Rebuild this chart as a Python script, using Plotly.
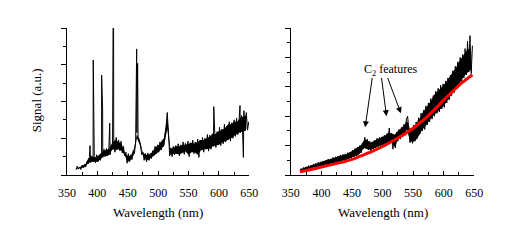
import numpy as np
import plotly.graph_objects as go

# ---------------- data ----------------
# Left panel: emission spectrum on a 2 nm grid (365..649 nm), arbitrary units (axis 0..4)
wl_left = np.arange(365, 650, 2)
sig_left = [
    0.14, 0.24, 0.16, 0.22, 0.15, 0.27, 0.19, 0.30, 0.22, 0.36,   # 365-383
    0.30, 0.50, 0.34, 0.52, 0.36, 0.50, 0.33, 0.55, 0.36, 0.52,   # 385-403
    0.40, 0.62, 0.48, 0.70, 0.50, 0.72, 0.52, 0.74, 0.55, 0.82,   # 405-423
    0.70, 0.98, 0.62, 1.02, 0.70, 0.95, 0.66, 0.92, 0.60, 0.78,   # 425-443
    0.52, 0.62, 0.32, 0.58, 0.36, 0.55, 0.42, 0.66, 0.58, 0.90,   # 445-463
    1.15, 1.05, 0.92, 0.80, 0.55, 0.62, 0.40, 0.58, 0.36, 0.60,   # 465-483
    0.40, 0.58, 0.45, 0.66, 0.52, 0.78, 0.58, 0.82, 0.62, 0.90,   # 485-503
    0.68, 0.95, 0.78, 1.08, 1.30, 1.70, 1.15, 0.52, 0.74, 0.50,   # 505-523
    0.78, 0.55, 0.80, 0.58, 0.85, 0.52, 0.82, 0.60, 0.90, 0.56,   # 525-543
    0.86, 0.62, 0.92, 0.50, 0.88, 0.64, 0.95, 0.58, 0.90, 0.66,   # 545-563
    0.98, 0.48, 0.95, 0.68, 1.02, 0.62, 1.00, 0.72, 1.10, 0.65,   # 565-583
    1.08, 0.70, 1.12, 0.78, 1.20, 0.75, 1.18, 0.82, 1.30, 0.80,   # 585-603
    1.25, 0.85, 1.38, 0.90, 1.32, 0.95, 1.45, 0.92, 1.42, 1.00,   # 605-623
    1.50, 1.05, 1.55, 1.10, 1.48, 1.15, 1.62, 1.12, 1.75, 1.20,   # 625-643
    1.70, 1.22, 1.45,                                             # 645-649
]
# Sharp atomic / molecular lines in the left spectrum
line_wl_left = [388.0, 393.3, 407.1, 408.7, 420.4, 426.0, 426.7, 464.7, 466.3, 591.5, 634.7, 640.2]
line_pk_left = [0.80, 3.13, 2.72, 1.80, 1.41, 4.30, 4.30, 3.43, 3.04, 1.86, 1.89, 0.48]

# Dense noise band of the left spectrum (inner envelope), 5 nm grid 365..645
band_wl = np.arange(365, 650, 5)
band_lo_left = [
    0.16, 0.18, 0.19, 0.22, 0.32, 0.36, 0.36, 0.36, 0.42, 0.50,   # 365-410
    0.52, 0.56, 0.70, 0.68, 0.70, 0.66, 0.54, 0.36, 0.40, 0.55,   # 415-460
    1.00, 0.82, 0.55, 0.40, 0.42, 0.48, 0.56, 0.62, 0.70, 0.80,   # 465-510
    1.25, 0.55, 0.57, 0.58, 0.56, 0.60, 0.64, 0.55, 0.62, 0.62,   # 515-560
    0.55, 0.66, 0.70, 0.70, 0.72, 0.78, 0.80, 0.82, 0.88, 0.92,   # 565-610
    0.95, 1.00, 1.07, 1.12, 1.17, 1.18, 1.25,                     # 615-645
]
band_hi_left = [
    0.20, 0.20, 0.25, 0.28, 0.45, 0.48, 0.48, 0.50, 0.58, 0.66,   # 365-410
    0.68, 0.72, 0.90, 0.95, 0.90, 0.85, 0.60, 0.52, 0.52, 0.70,   # 415-460
    1.10, 0.95, 0.60, 0.55, 0.55, 0.62, 0.74, 0.80, 0.90, 1.02,   # 465-510
    1.60, 0.70, 0.74, 0.78, 0.78, 0.82, 0.82, 0.85, 0.88, 0.85,   # 515-560
    0.90, 0.95, 0.95, 1.00, 1.05, 1.10, 1.12, 1.20, 1.22, 1.28,   # 565-610
    1.38, 1.38, 1.45, 1.45, 1.55, 1.60, 1.62,                     # 615-645
]

# Right panel: broadband spectrum on a 2 nm grid (365..647 nm), axis 0..5
wl_right = np.arange(365, 648, 2)
sig_right = [
    0.14, 0.22, 0.15, 0.26, 0.17, 0.28, 0.19, 0.32, 0.21, 0.34,   # 365-383
    0.23, 0.38, 0.25, 0.40, 0.27, 0.44, 0.29, 0.45, 0.31, 0.48,   # 385-403
    0.33, 0.50, 0.35, 0.54, 0.36, 0.55, 0.39, 0.60, 0.41, 0.62,   # 405-423
    0.43, 0.64, 0.45, 0.68, 0.47, 0.70, 0.49, 0.72, 0.52, 0.76,   # 425-443
    0.55, 0.78, 0.58, 0.85, 0.62, 0.90, 0.65, 0.95, 0.70, 1.00,   # 445-463
    0.75, 1.08, 0.90, 1.28, 0.95, 1.22, 0.85, 1.15, 0.82, 1.10,   # 465-483
    0.88, 1.18, 0.92, 1.25, 0.95, 1.28, 0.98, 1.30, 1.00, 1.35,   # 485-503
    1.02, 1.40, 1.10, 1.60, 1.08, 1.42, 0.88, 1.35, 0.92, 1.45,   # 505-523
    1.15, 1.55, 1.22, 1.62, 1.30, 1.72, 1.35, 1.90, 2.00, 1.55,   # 525-543
    1.10, 1.60, 1.08, 1.70, 1.15, 1.80, 1.25, 1.95, 1.40, 2.10,   # 545-563
    1.50, 2.20, 1.55, 2.35, 1.70, 2.45, 1.80, 2.60, 1.90, 2.70,   # 565-583
    2.00, 2.85, 2.10, 2.95, 2.15, 3.05, 2.25, 3.10, 2.30, 3.20,   # 585-603
    2.45, 3.30, 2.55, 3.40, 2.70, 3.55, 2.80, 3.70, 2.95, 3.85,   # 605-623
    3.00, 4.00, 3.15, 4.10, 3.30, 4.30, 3.40, 4.55, 3.50, 4.74,   # 625-643
    3.45, 4.40,                                                   # 645-647
]
# Dense noise band of the right spectrum (inner envelope), 5 nm grid 365..645
band_lo_right = [
    0.15, 0.17, 0.19, 0.21, 0.24, 0.27, 0.29, 0.31, 0.34, 0.36,   # 365-410
    0.39, 0.42, 0.44, 0.46, 0.49, 0.51, 0.56, 0.60, 0.64, 0.68,   # 415-460
    0.78, 0.92, 0.88, 0.86, 0.90, 0.94, 0.98, 1.02, 1.06, 1.12,   # 465-510
    1.12, 0.95, 1.20, 1.28, 1.40, 1.55, 1.15, 1.12, 1.20, 1.35,   # 515-560
    1.55, 1.65, 1.80, 1.95, 2.05, 2.15, 2.25, 2.35, 2.50, 2.65,   # 565-610
    2.80, 2.95, 3.10, 3.25, 3.40, 3.50, 3.60,                     # 615-645
]
band_hi_right = [
    0.19, 0.24, 0.27, 0.30, 0.34, 0.38, 0.42, 0.45, 0.48, 0.52,   # 365-410
    0.54, 0.58, 0.62, 0.65, 0.68, 0.70, 0.75, 0.82, 0.88, 0.95,   # 415-460
    1.02, 1.20, 1.18, 1.10, 1.15, 1.20, 1.25, 1.28, 1.35, 1.45,   # 465-510
    1.40, 1.38, 1.50, 1.58, 1.68, 1.85, 1.55, 1.62, 1.75, 1.90,   # 515-560
    2.10, 2.25, 2.40, 2.55, 2.75, 2.85, 2.95, 3.05, 3.20, 3.35,   # 565-610
    3.50, 3.65, 3.85, 4.00, 4.15, 4.30, 4.20,                     # 615-645
]

# Smooth fit (red) through the right-panel spectrum
fit_wl = [365, 370, 380, 390, 400, 410, 420, 430, 440, 450, 460, 470, 480, 490, 500,
          510, 520, 530, 540, 550, 560, 570, 580, 590, 600, 610, 620, 630, 640, 647]
fit_val = [0.11, 0.13, 0.17, 0.22, 0.27, 0.32, 0.37, 0.42, 0.47, 0.53, 0.61, 0.69, 0.78, 0.87, 0.97,
           1.08, 1.20, 1.32, 1.45, 1.59, 1.76, 1.93, 2.12, 2.33, 2.55, 2.75, 2.95, 3.14, 3.30, 3.41]

# C2 feature arrows: (tail wl, tail value) -> (head wl, head value) in right-panel data units
arrow_tail_wl = [483.5, 498.0, 507.5]
arrow_tail_val = [3.35, 3.35, 3.35]
arrow_head_wl = [471.5, 506.5, 530.0]
arrow_head_val = [1.62, 2.00, 2.10]

x_ticks = [350, 400, 450, 500, 550, 600, 650]

# ---------------- figure ----------------
W, H = 518, 252
FONT = "Liberation Serif"

xl = np.concatenate([wl_left, line_wl_left])
yl = np.concatenate([sig_left, line_pk_left])
order = np.argsort(xl, kind="stable")
xl, yl = xl[order], yl[order]

fig = go.Figure()


def add_band(lo, hi, xa, ya):
    fig.add_trace(go.Scatter(x=band_wl, y=lo, mode="lines", line=dict(width=0, color="black"),
                             xaxis=xa, yaxis=ya, showlegend=False, hoverinfo="skip"))
    fig.add_trace(go.Scatter(x=band_wl, y=hi, mode="lines", line=dict(width=0, color="black"),
                             fill="tonexty", fillcolor="black",
                             xaxis=xa, yaxis=ya, showlegend=False, hoverinfo="skip"))


add_band(band_lo_left, band_hi_left, "x", "y")
fig.add_trace(go.Scatter(x=xl, y=yl, mode="lines", line=dict(color="black", width=1, simplify=False),
                         xaxis="x", yaxis="y", showlegend=False, hoverinfo="skip"))
add_band(band_lo_right, band_hi_right, "x2", "y2")
fig.add_trace(go.Scatter(x=wl_right, y=sig_right, mode="lines",
                         line=dict(color="black", width=1, simplify=False),
                         xaxis="x2", yaxis="y2", showlegend=False, hoverinfo="skip"))
fig.add_trace(go.Scatter(x=fit_wl, y=fit_val, mode="lines", line=dict(color="#ff0000", width=3, shape="spline"),
                         xaxis="x2", yaxis="y2", showlegend=False, hoverinfo="skip"))

ydom = [77 / H, 224 / H]
xcommon = dict(range=[350, 650], showline=True, linecolor="black", linewidth=1, showgrid=False,
               zeroline=False, ticks="inside", ticklen=4, tickcolor="black", tickwidth=1,
               tickvals=x_ticks, ticklabelstandoff=7,
               tickfont=dict(family=FONT, size=12, color="black"),
               minor=dict(ticks="inside", ticklen=3, dtick=25, tick0=350, tickcolor="black"))
ycommon = dict(showline=True, linecolor="black", linewidth=1, showgrid=False, zeroline=False,
               ticks="outside", ticklen=5, tickcolor="black", tickwidth=1, showticklabels=False,
               dtick=1, tick0=0, domain=ydom,
               minor=dict(ticks="outside", ticklen=3, dtick=0.5, tickcolor="black"))

fig.update_layout(
    width=W, height=H, margin=dict(l=0, r=0, t=0, b=0),
    paper_bgcolor="white", plot_bgcolor="white",
    font=dict(family=FONT, size=12, color="black"),
    xaxis=dict(domain=[60 / W, 249 / W], anchor="y", **xcommon),
    yaxis=dict(range=[0, 4], anchor="x", **ycommon),
    xaxis2=dict(domain=[292 / W, 482 / W], anchor="y2", **xcommon),
    yaxis2=dict(range=[0, 5], anchor="x2", **ycommon),
)

annotations = [
    dict(text="Wavelength (nm)", x=154.5 / W, y=1 - 212 / H, xref="paper", yref="paper",
         showarrow=False, font=dict(family=FONT, size=13), xanchor="center", yanchor="middle"),
    dict(text="Wavelength (nm)", x=387 / W, y=1 - 212 / H, xref="paper", yref="paper",
         showarrow=False, font=dict(family=FONT, size=13), xanchor="center", yanchor="middle"),
    dict(text="Signal (a.u.)", x=36.5 / W, y=1 - 100 / H, xref="paper", yref="paper", textangle=-90,
         showarrow=False, font=dict(family=FONT, size=13), xanchor="center", yanchor="middle",
         xshift=-7),
    dict(text="C<sub>2</sub> features", x=366 / W, y=1 - 70 / H, xref="paper", yref="paper",
         showarrow=False, font=dict(family=FONT, size=12), xanchor="left", yanchor="middle"),
]
for tw, tv, hw, hv in zip(arrow_tail_wl, arrow_tail_val, arrow_head_wl, arrow_head_val):
    annotations.append(dict(text="", x=hw, y=hv, xref="x2", yref="y2", ax=tw, ay=tv,
                            axref="x2", ayref="y2", showarrow=True, arrowhead=2, arrowsize=1.2,
                            arrowwidth=1, arrowcolor="black", standoff=0, startstandoff=0))
fig.update_layout(annotations=annotations)

fig.write_html("out.html")
